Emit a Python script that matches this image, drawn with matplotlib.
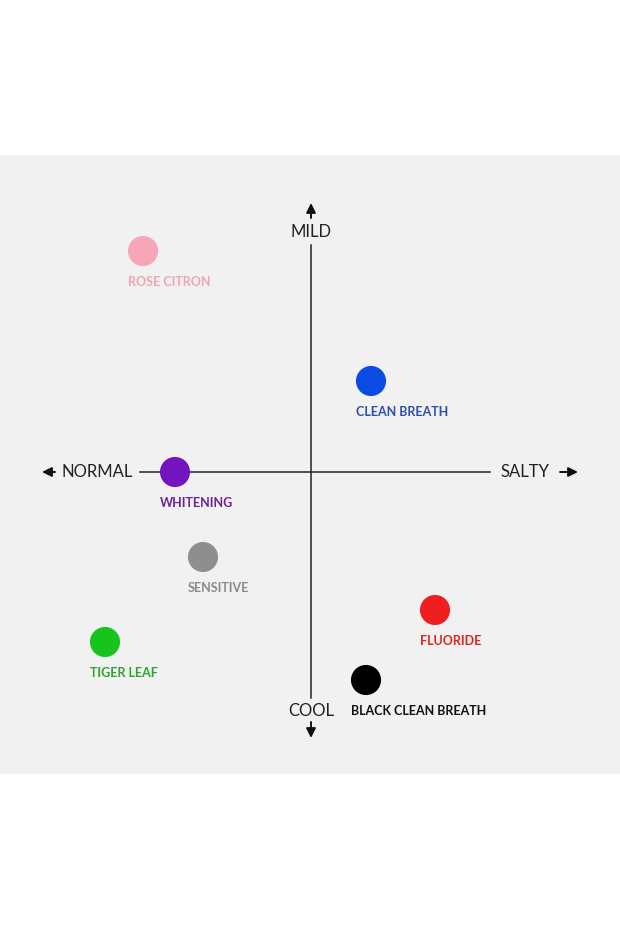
import matplotlib
matplotlib.use("Agg")
import matplotlib.pyplot as plt

# positioning map: x = salty(+) / normal(-), y = mild(+) / cool(-)
names = ["ROSE CITRON", "CLEAN BREATH", "WHITENING", "SENSITIVE",
         "FLUORIDE", "TIGER LEAF", "BLACK CLEAN BREATH"]
xs = [-3.34, 1.22, -2.70, -2.14, 2.50, -4.10, 1.12]
ys = [4.42, 1.82, 0.0, -1.70, -2.76, -3.40, -4.16]
dot_colors = ["#f7a6b8", "#0a4be3", "#7414bf", "#8e8e8e", "#f01f1f", "#17c41c", "#000000"]
text_colors = ["#f2a3b3", "#2d4fa6", "#6b2596", "#8a8a8a", "#d8261f", "#2ea22e", "#111111"]

plt.rcParams['font.family'] = ['Lato', 'DejaVu Sans']

fig = plt.figure(figsize=(6.2, 9.3), dpi=100)
fig.patch.set_facecolor("white")
ax = fig.add_axes([0, 156 / 930, 1, 619 / 930])
ax.set_facecolor("#f1f1f1")
ax.set_xlim(-6.2, 6.2)
ax.set_ylim(-6.04, 6.34)
for s in ax.spines.values():
    s.set_visible(False)
ax.set_xticks([])
ax.set_yticks([])

# axes lines
ax.plot([-3.4, 3.6], [0, 0], color="#222222", lw=1.1, zorder=1)
ax.plot([0.02, 0.02], [4.54, -4.52], color="#222222", lw=1.1, zorder=1)

arrow = dict(arrowstyle="-|>", color="#111111", lw=1.4, mutation_scale=14,
             shrinkA=0, shrinkB=0)
ax.annotate("", xy=(0.02, 5.38), xytext=(0.02, 5.08), arrowprops=arrow)
ax.annotate("", xy=(0.02, -5.32), xytext=(0.02, -5.0), arrowprops=arrow)
ax.annotate("", xy=(-5.36, 0), xytext=(-5.1, 0), arrowprops=arrow)
ax.annotate("", xy=(5.36, 0), xytext=(5.0, 0), arrowprops=arrow)

axis_kw = dict(fontsize=12, color="#222222", ha="center", va="center")
ax.text(0.02, 4.8, "MILD", **axis_kw)
ax.text(0.02, -4.78, "COOL", **axis_kw)
ax.text(-4.26, 0, "NORMAL", **axis_kw)
ax.text(4.3, 0, "SALTY", **axis_kw)

ax.scatter(xs, ys, s=470, c=dot_colors, zorder=3, linewidths=0)
for name, x, y, tc in zip(names, xs, ys, text_colors):
    ax.annotate(name, (x, y), xytext=(-15, -31), textcoords="offset pixels",
                ha="left", va="center", fontsize=9, fontweight="bold", color=tc)

fig.savefig("out.png", dpi=100, facecolor="white")
